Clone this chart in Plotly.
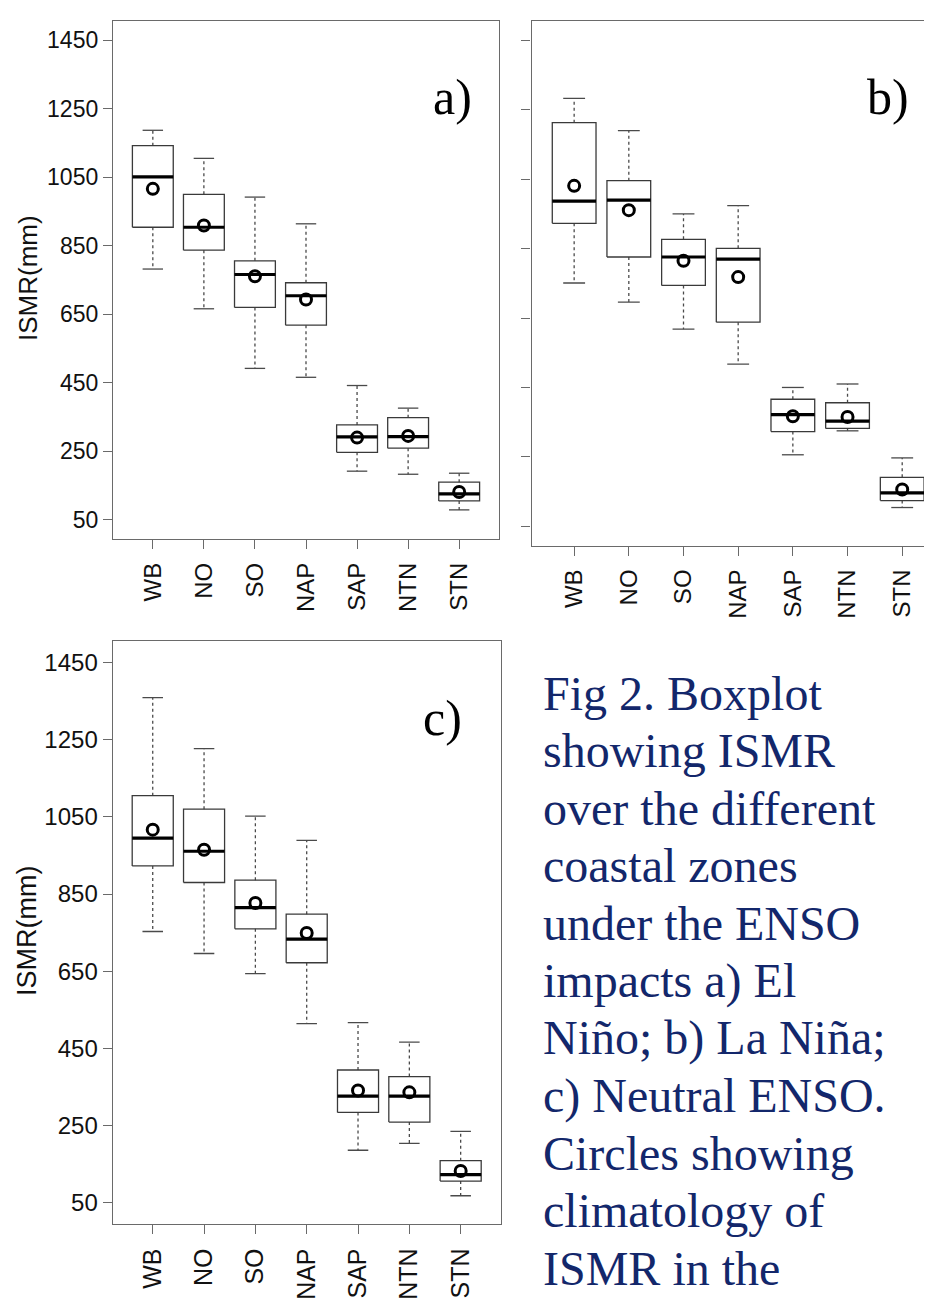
import plotly.graph_objects as go

# ---------------- data ----------------
cats = ["WB", "NO", "SO", "NAP", "SAP", "NTN", "STN"]
y_ticks = [50, 250, 450, 650, 850, 1050, 1250, 1450]

# a) El Nino
a_upper = [1187, 1105, 992, 914, 442, 376, 186]
a_q3 = [1142, 1000, 806, 742, 327, 348, 160]
a_med = [1051, 904, 766, 704, 292, 293, 126]
a_q1 = [904, 837, 670, 618, 247, 259, 105]
a_lower = [782, 666, 492, 466, 192, 183, 79]
a_mean = [1016, 909, 761, 693, 290, 295, 131]

# b) La Nina
b_upper = [1283, 1190, 950, 974, 450, 460, 247]
b_q3 = [1213, 1046, 877, 851, 416, 406, 191]
b_med = [987, 990, 826, 820, 372, 353, 146]
b_q1 = [923, 826, 744, 638, 323, 332, 124]
b_lower = [751, 696, 618, 517, 256, 325, 104]
b_mean = [1031, 961, 815, 768, 367, 365, 156]

# c) Neutral ENSO
c_upper = [1359, 1227, 1052, 989, 517, 466, 235]
c_q3 = [1105, 1070, 886, 798, 394, 377, 159]
c_med = [995, 961, 815, 733, 326, 326, 123]
c_q1 = [923, 880, 760, 672, 284, 259, 106]
c_lower = [753, 696, 644, 514, 186, 204, 68]
c_mean = [1017, 965, 827, 749, 341, 336, 132]

caption_lines = [
    "Fig 2. Boxplot",
    "showing ISMR",
    "over the different",
    "coastal zones",
    "under the ENSO",
    "impacts a) El",
    "Niño; b) La Niña;",
    "c) Neutral ENSO.",
    "Circles showing",
    "climatology of",
    "ISMR in the",
]
panel_labels = ["a)", "b)", "c)"]
y_title = "ISMR(mm)"

# ---------------- figure ----------------
OFF = 8  # page body margin
W, H = 932 - OFF, 1301 - OFF
BOXHALF = 0.4
CAPHALF = 0.2
FRAME = "#6a6a6a"
BOXC = "#3a3a3a"
WHISK = "#4a4a4a"

fig = go.Figure()
pos = list(range(1, len(cats) + 1))


def add_panel(upper, q3, med, q1, lower, mean, xr, yr):
    wx, wy, cx, cy, bx, by, mx, my = [], [], [], [], [], [], [], []
    for p, u, t, m, b, l in zip(pos, upper, q3, med, q1, lower):
        wx += [p, p, None, p, p, None]
        wy += [t, u, None, b, l, None]
        cx += [p - CAPHALF, p + CAPHALF, None, p - CAPHALF, p + CAPHALF, None]
        cy += [u, u, None, l, l, None]
        bx += [p - BOXHALF, p + BOXHALF, p + BOXHALF, p - BOXHALF, p - BOXHALF, None]
        by += [b, b, t, t, b, None]
        mx += [p - BOXHALF, p + BOXHALF, None]
        my += [m, m, None]
    common = dict(xaxis=xr, yaxis=yr, mode="lines", showlegend=False, hoverinfo="skip")
    fig.add_trace(go.Scatter(x=wx, y=wy, line=dict(color=WHISK, width=1.3, dash="3px,3px"), **common))
    fig.add_trace(go.Scatter(x=cx, y=cy, line=dict(color=WHISK, width=1.3), **common))
    fig.add_trace(go.Scatter(x=bx, y=by, line=dict(color=BOXC, width=1.3), **common))
    fig.add_trace(go.Scatter(x=mx, y=my, line=dict(color="black", width=3.2), **common))
    fig.add_trace(go.Scatter(
        x=pos, y=mean, xaxis=xr, yaxis=yr, mode="markers", showlegend=False,
        marker=dict(symbol="circle-open", size=11, color="black", line=dict(width=3, color="black")),
    ))


add_panel(a_upper, a_q3, a_med, a_q1, a_lower, a_mean, "x", "y")
add_panel(b_upper, b_q3, b_med, b_q1, b_lower, b_mean, "x2", "y2")
add_panel(c_upper, c_q3, c_med, c_q1, c_lower, c_mean, "x3", "y3")


def xaxis(domain, rng, anchor, size, mirror=True):
    return dict(
        domain=domain, range=rng, anchor=anchor,
        tickmode="array", tickvals=pos, ticktext=cats, tickangle=-90,
        ticks="outside", ticklen=9, tickwidth=1.2, tickcolor=FRAME,
        ticklabelstandoff=4,
        showline=True, linecolor=FRAME, linewidth=1.3, mirror=mirror,
        showgrid=False, zeroline=False,
        tickfont=dict(family="Liberation Sans", size=size, color="#111"),
    )


def yaxis(domain, anchor, size, labels=True, mirror=True):
    return dict(
        domain=domain, range=[-6, 1506], anchor=anchor,
        tickmode="array", tickvals=y_ticks, ticktext=[str(v) for v in y_ticks],
        ticks="outside", ticklen=9, tickwidth=1.2, tickcolor=FRAME,
        showticklabels=labels,
        showline=True, linecolor=FRAME, linewidth=1.3, mirror=mirror,
        showgrid=False, zeroline=False,
        tickfont=dict(family="Liberation Sans", size=size, color="#111"),
    )


def px_x(v):
    return (v - OFF) / W


def px_y(v):
    return 1 - (v - OFF) / H


fig.update_layout(
    width=W, height=H,
    margin=dict(l=0, r=0, t=0, b=0),
    paper_bgcolor="white", plot_bgcolor="white",
    xaxis=xaxis([px_x(113), px_x(499)], [0.22, 7.78], "y", 24),
    yaxis=yaxis([px_y(539), px_y(21)], "x", 23),
    xaxis2=xaxis([px_x(531.5), 1.0], [0.22, 7.545], "y2", 24, mirror=True),
    yaxis2=yaxis([px_y(545.7), px_y(21)], "x2", 23, labels=False, mirror=False),
    xaxis3=xaxis([px_x(112.7), px_x(500.7)], [0.22, 7.78], "y3", 25),
    yaxis3=yaxis([px_y(1224.3), px_y(641)], "x3", 24),
)

annotations = []
# y-axis titles
annotations.append(dict(text=y_title, x=px_x(28), y=px_y(278), xref="paper", yref="paper",
                        showarrow=False, textangle=-90, xanchor="center", yanchor="middle",
                        font=dict(family="Liberation Sans", size=26, color="#111")))
annotations.append(dict(text=y_title, x=px_x(27), y=px_y(931), xref="paper", yref="paper",
                        showarrow=False, textangle=-90, xanchor="center", yanchor="middle",
                        font=dict(family="Liberation Sans", size=27, color="#111")))
# panel labels
for lab, (lx, ly) in zip(panel_labels, [(452, 97), (888, 97), (442, 718)]):
    annotations.append(dict(text=lab, x=px_x(lx), y=px_y(ly), xref="paper", yref="paper",
                            showarrow=False, xanchor="center", yanchor="middle",
                            font=dict(family="Liberation Serif", size=50, color="black")))
# caption
for k, line in enumerate(caption_lines):
    annotations.append(dict(text=line, x=px_x(541), y=px_y(693 + 57.5 * k), xref="paper", yref="paper",
                            showarrow=False, xanchor="left", yanchor="middle",
                            font=dict(family="Liberation Serif", size=48, color="#13276b")))
fig.update_layout(annotations=annotations)

fig.write_html("out.html")
